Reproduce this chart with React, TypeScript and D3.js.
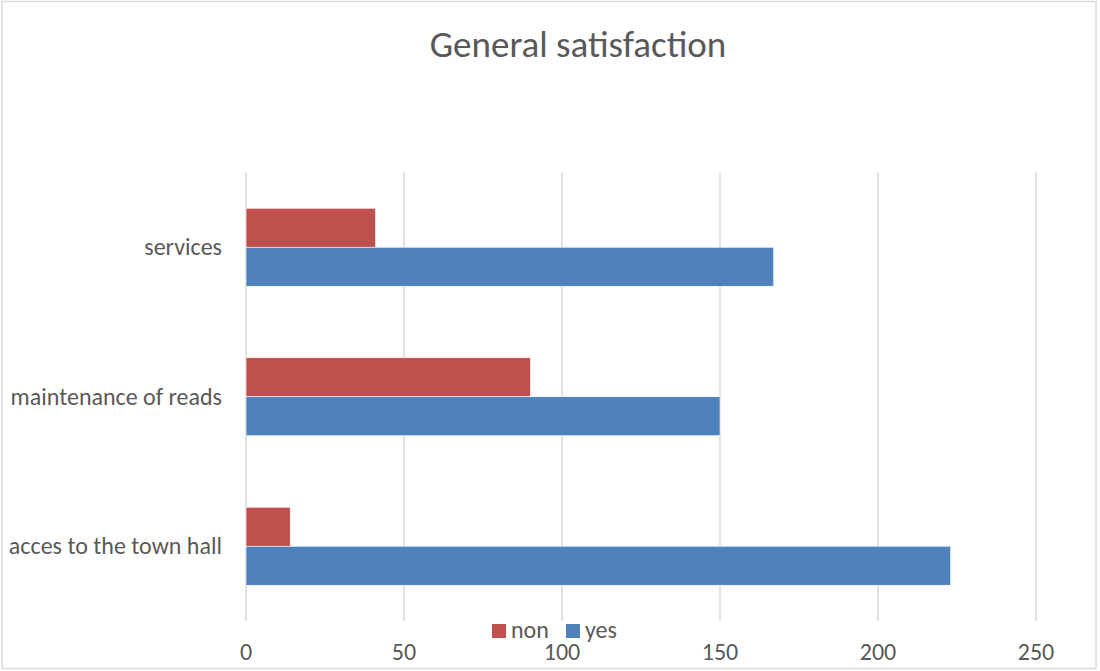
import React, { useEffect } from "react";
import * as d3 from "d3";

const categories = ["services", "maintenance of reads", "acces to the town hall"];
const seriesNames = ["non", "yes"];
const nonValues = [41, 90, 14];
const yesValues = [167, 150, 223];
const xTicks = [0, 50, 100, 150, 200, 250];
const colors = ["#C0504D", "#4F81BD"];
const title = "General satisfaction";

const W = 1100;
const H = 671;
const FONT = "Carlito, Calibri, 'Open Sans', sans-serif";

export default function App() {
  useEffect(() => {
    document.body.style.margin = "0";
  }, []);

  const left = 246, right = 1036, top = 172.5, bottom = 621;
  const x = d3.scaleLinear().domain([0, 250]).range([left, right]);
  const y = d3.scaleBand<string>().domain(categories).range([top, bottom]).paddingInner(0).paddingOuter(0);
  const inner = d3.scaleBand<string>().domain(seriesNames).range([0, 78]);
  const bw = y.bandwidth();
  const seriesVals = [nonValues, yesValues];

  return (
    <svg width={W} height={H} style={{ display: "block" }} fontFamily={FONT}>
      <rect x={0} y={0} width={W} height={H} fill="#fff" />
      <rect x={2} y={1.5} width={1094} height={667} fill="none" stroke="#D9D9D9" strokeWidth={1.5} />
      <text x={578} y={57} textAnchor="middle" fontSize={37} fill="#595959">{title}</text>
      {xTicks.map((t) => (
        <line key={t} x1={x(t)} x2={x(t)} y1={top} y2={bottom} stroke="#D9D9D9" strokeWidth={1.5} />
      ))}
      {categories.map((c, i) => (
        <g key={c}>
          {seriesNames.map((s, j) => {
            const y0 = (y(c) as number) + (bw - 78) / 2 + (inner(s) as number);
            return (
              <rect key={s} x={x(0)} y={y0} width={x(seriesVals[j][i]) - x(0)} height={inner.bandwidth()}
                fill={colors[j]} stroke="#fff" strokeWidth={0.6} />
            );
          })}
          <text x={222} y={(y(c) as number) + bw / 2 + 8} textAnchor="end" fontSize={24} fill="#595959">{c}</text>
        </g>
      ))}
      {xTicks.map((t) => (
        <text key={"l" + t} x={x(t)} y={660} textAnchor="middle" fontSize={24} fill="#595959">{t}</text>
      ))}
      <g>
        <rect x={492} y={624} width={14} height={14} fill={colors[0]} />
        <text x={511} y={638} fontSize={24} fill="#595959">{seriesNames[0]}</text>
        <rect x={566} y={624} width={14} height={14} fill={colors[1]} />
        <text x={585} y={638} fontSize={24} fill="#595959">{seriesNames[1]}</text>
      </g>
    </svg>
  );
}
